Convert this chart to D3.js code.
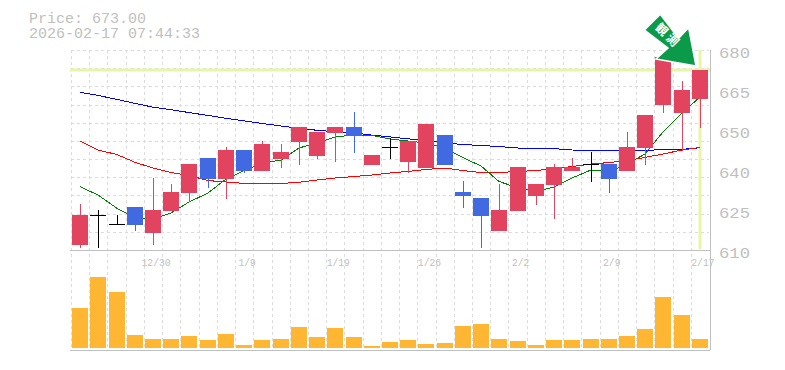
<!DOCTYPE html>
<html>
<head>
<meta charset="utf-8">
<script src="https://cdn.jsdelivr.net/npm/d3@7"></script>
<style>
  html, body { margin: 0; padding: 0; background: #fff; }
  svg { display: block; }
  text { font-family: "Liberation Mono", monospace; fill: #c0c0c0; }
</style>
</head>
<body>
<div class="chart"></div>
<script>
const WIDTH = 785
const HEIGHT = 370

const priceNow = 673
const infoLines = ['Price: 673.00', '2026-02-17 07:44:33']

const dateTicks = [4, 9, 14, 19, 24, 29, 34]
const dateLabels = ['12/30', '1/9', '1/19', '1/26', '2/2', '2/9', '2/17']

const priceTicks = [680, 666, 652, 638, 624, 610]
const priceLabels = ['680', '665', '650', '640', '625', '610']

const open = [611.75, 622, 619, 625.05, 615.95, 623.65, 629.95, 642.2, 634.85, 645, 637.65, 641.85, 647.8, 642.9, 650.95, 653.05, 639.75, 646, 640.8, 638.7, 650.25, 630.3, 628.2, 616.65, 623.65, 628.9, 632.75, 637.65, 640.1, 640.1, 637.65, 645.7, 660.75, 657.95, 662.85]
const high = [626.1, 624, 622.25, 625.05, 635.2, 633.1, 640.1, 642.2, 646.05, 645, 648.15, 647.1, 653.05, 651.3, 653.05, 658.3, 643.25, 649.2, 648.15, 654.1, 650.25, 634.15, 628.2, 633.1, 639.05, 633.1, 640.1, 642.2, 644.3, 640.1, 651.3, 657.25, 677.5, 669.15, 673]
const low = [610.7, 610.7, 619, 616.65, 611.75, 623.65, 626.8, 631.7, 627.85, 636.95, 637.65, 638.7, 639.75, 641.85, 640.8, 643.95, 639.75, 641.85, 636.95, 638.7, 639.75, 624.7, 610.7, 616.65, 623.65, 625.75, 620.85, 637.65, 633.8, 629.95, 637.65, 639.75, 657.95, 644.65, 652.7]
const close = [622.25, 622, 619, 618.75, 624, 630.3, 640.1, 634.85, 645, 637.65, 647.1, 644.3, 653.05, 651.3, 653.05, 649.9, 643.25, 646, 648.15, 654.1, 639.75, 628.9, 621.9, 624, 639.05, 633.1, 639.05, 639.05, 640.1, 634.85, 646.05, 657.25, 677.5, 666, 673]

const maShort = [632.15, 629.25, 624.6, 621.2, 620.85, 622.95, 626.8, 629.95, 634.85, 637.75, 640.45, 641.5, 645.7, 647.45, 649.55, 650.25, 650.1, 648.85, 648.15, 647.45, 645.6, 642.3, 639.4, 634, 631.7, 630.4, 632.05, 635.2, 638, 637.4, 640.1, 643.6, 651.3, 657.95, 663.55]
const maMid = [648.15, 645, 643.4, 640.7, 638.7, 637.1, 636.1, 634.3, 633.8, 633.3, 633.3, 633.3, 633.7, 634.5, 635.2, 635.7, 636.25, 636.95, 637.5, 638.2, 638.7, 637.8, 637.1, 637.1, 637.5, 637.8, 638.5, 639.2, 640.1, 640.6, 641.3, 642.4, 643.6, 645, 645.9]
const maLong = [665.2, 664.1, 662.7, 661.3, 660, 659.1, 658.1, 657.1, 656.1, 655.2, 654.3, 653.4, 652.6, 651.9, 651.4, 651, 650.2, 649.6, 648.9, 648.3, 647.5, 646.9, 646.6, 646.2, 645.7, 645.5, 645.5, 645, 644.9, 644.9, 644.9, 644.9, 645.1, 645.2, 645.8]

const volume = [40, 71, 56, 13, 9, 9, 12, 8, 14, 3, 8, 9, 21, 11, 20, 11, 2, 6, 8, 4, 5, 22, 24, 9, 7, 3, 8, 8, 9, 9, 12, 19, 51, 33, 9]

const RED = '#e2435f'
const BLUE = '#4169e1'
const GRID = '#dcdcdc'
const AXIS = '#c0c0c0'
const HILITE = '#e6f5a8'

const svg = d3.select('.chart')
  .append('svg')
  .attr('width', WIDTH)
  .attr('height', HEIGHT)

const x = d3.scaleBand()
  .domain(d3.range(open.length))
  .range([71, 709])
  .paddingInner(0.12)
  .paddingOuter(0.06)

const y = d3.scaleLinear()
  .domain([610, 680])
  .range([250, 50])

const yVol = d3.scaleLinear()
  .domain([0, 98])
  .range([348, 250])

const cx = i => Math.round(x(i) + x.bandwidth() / 2)

// grille
const grid = svg.append('g')
  .attr('stroke', GRID)
  .attr('stroke-dasharray', '3,3')
  .attr('shape-rendering', 'crispEdges')

grid.selectAll('.v')
  .data(d3.range(open.length))
  .enter()
  .append('line')
  .attr('x1', d => Math.round(71 + d * x.step()))
  .attr('x2', d => Math.round(71 + d * x.step()))
  .attr('y1', 50)
  .attr('y2', 350)

grid.selectAll('.h')
  .data(d3.range(11))
  .enter()
  .append('line')
  .attr('x1', 71)
  .attr('x2', 709)
  .attr('y1', d => Math.round(50 + d * 200 / 11))
  .attr('y2', d => Math.round(50 + d * 200 / 11))

// cours actuel
svg.append('line')
  .attr('x1', 70).attr('x2', 710)
  .attr('y1', y(priceNow)).attr('y2', y(priceNow))
  .attr('stroke', HILITE)
  .attr('stroke-width', 3)

svg.append('line')
  .attr('x1', cx(open.length - 1)).attr('x2', cx(open.length - 1))
  .attr('y1', 50).attr('y2', 249)
  .attr('stroke', HILITE)
  .attr('stroke-width', 3)

// cadre
const frame = svg.append('g')
  .attr('stroke', AXIS)
  .attr('shape-rendering', 'crispEdges')
frame.append('line').attr('x1', 70).attr('x2', 710).attr('y1', 250).attr('y2', 250)
frame.append('line').attr('x1', 70).attr('x2', 710).attr('y1', 350).attr('y2', 350)
frame.append('line').attr('x1', 710).attr('x2', 710).attr('y1', 50).attr('y2', 350)

// moyennes mobiles
const getLine = (values, color, width) =>
  svg.append('path')
    .datum(values)
    .attr('d', d3.line().x((d, i) => cx(i)).y(d => y(d)))
    .attr('fill', 'none')
    .attr('stroke', color)
    .attr('stroke-width', width)
    .attr('shape-rendering', 'crispEdges')

getLine(maLong, '#0000ff', 1)
getLine(maMid, '#ff0000', 1)
getLine(maShort, '#008000', 1)

// bougies
const candleColor = i => close[i] > open[i] ? RED : close[i] < open[i] ? BLUE : '#000'

const candles = svg.append('g')
  .attr('shape-rendering', 'crispEdges')
  .selectAll('g')
  .data(d3.range(open.length))
  .enter()
  .append('g')

candles.append('line')
  .attr('x1', cx).attr('x2', cx)
  .attr('y1', i => y(high[i]))
  .attr('y2', i => y(low[i]))
  .attr('stroke', candleColor)

candles.filter(i => close[i] !== open[i])
  .append('rect')
  .attr('x', i => cx(i) - 8)
  .attr('width', 16)
  .attr('y', i => y(Math.max(open[i], close[i])))
  .attr('height', i => Math.abs(y(open[i]) - y(close[i])))
  .attr('fill', candleColor)

candles.filter(i => close[i] === open[i])
  .append('line')
  .attr('x1', i => cx(i) - 8)
  .attr('x2', i => cx(i) + 8)
  .attr('y1', i => y(open[i]))
  .attr('y2', i => y(open[i]))
  .attr('stroke', '#000')

// volume
svg.append('g')
  .attr('shape-rendering', 'crispEdges')
  .selectAll('rect')
  .data(volume)
  .enter()
  .append('rect')
  .attr('x', (d, i) => cx(i) - 8)
  .attr('width', 16)
  .attr('y', d => yVol(d))
  .attr('height', d => yVol(0) - yVol(d))
  .attr('fill', '#ffb733')

// axes
const yAxis = d3.axisRight(y)
  .tickValues(priceTicks)
  .tickFormat((d, i) => priceLabels[i])
  .tickSize(0)
  .tickPadding(9)

const rAxis = svg.append('g')
  .attr('transform', 'translate(710, 0)')
  .call(yAxis)
rAxis.select('.domain').remove()
rAxis.selectAll('text')
  .attr('dy', 7)
  .attr('textLength', 31)
  .attr('lengthAdjust', 'spacingAndGlyphs')
  .style('font-size', '15px')
  .style('font-family', '"Liberation Mono", monospace')
  .style('fill', AXIS)

const xAxis = d3.axisBottom(x)
  .tickValues(dateTicks)
  .tickFormat((d, i) => dateLabels[i])
  .tickSize(0)
  .tickPadding(0)

const bAxis = svg.append('g')
  .attr('transform', 'translate(3, 250)')
  .call(xAxis)
bAxis.select('.domain').remove()
bAxis.selectAll('text')
  .attr('y', 16)
  .attr('dy', 0)
  .attr('textLength', d => dateLabels[dateTicks.indexOf(d)].length * 5.8)
  .attr('lengthAdjust', 'spacingAndGlyphs')
  .style('font-size', '11px')
  .style('font-family', '"Liberation Mono", monospace')
  .style('fill', AXIS)

// infos
svg.append('text')
  .style('font-size', '15px')
  .selectAll('tspan')
  .data(infoLines)
  .enter()
  .append('tspan')
  .attr('x', 29)
  .attr('y', (d, i) => 23 + i * 15)
  .text(d => d)

// fleche
const arrow = svg.append('g')
  .attr('transform', `translate(${cx(open.length - 1) - 4}, ${y(priceNow) - 4})`)

arrow.append('path')
  .attr('d', 'M0,0 L-40,-7 L-28,-18 L-51.5,-36 L-35.7,-51.7 L-17.4,-27.7 L-7.4,-38.3 Z')
  .attr('fill', '#0a9a48')
  .attr('stroke', '#fff')
  .attr('stroke-width', 1.5)

arrow.append('text')
  .attr('transform', 'translate(-28, -30) rotate(45)')
  .attr('text-anchor', 'middle')
  .attr('dy', 4)
  .attr('letter-spacing', 3)
  .style('font-family', '"Noto Sans CJK JP"')
  .style('font-size', '12px')
  .style('font-weight', 'bold')
  .style('fill', '#fff')
  .text('観測')
</script>
</body>
</html>
